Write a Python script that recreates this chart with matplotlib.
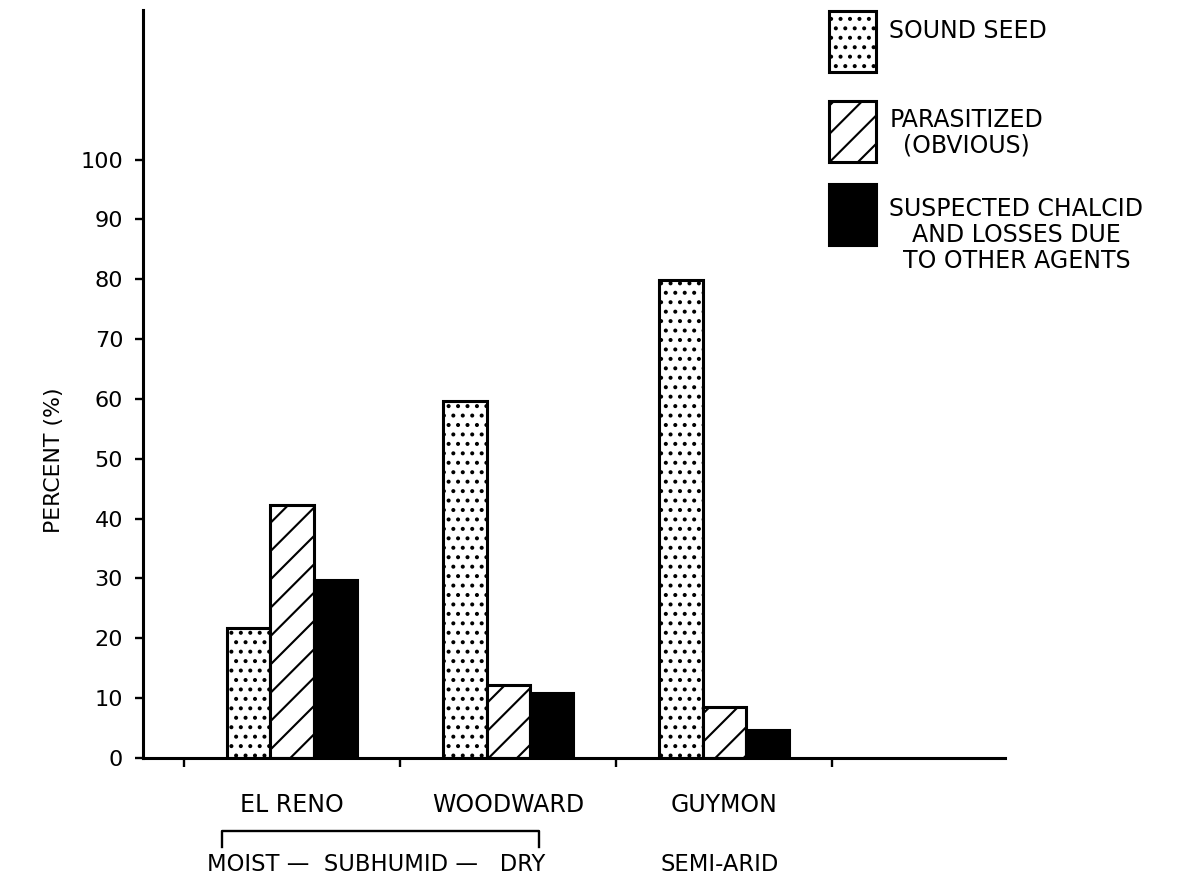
import matplotlib.pyplot as plt
from matplotlib.patches import Rectangle
from matplotlib.lines import Line2D
import numpy as np

plt.rcParams['hatch.linewidth'] = 0.9

sites = ['EL RENO', 'WOODWARD', 'GUYMON']
sound_seed = [21.7, 59.7, 79.8]
parasitized = [42.2, 12.2, 8.5]
chalcid = [29.8, 10.8, 4.7]
yticks = [0, 10, 20, 30, 40, 50, 60, 70, 80, 90, 100]
legend_labels = ['SOUND SEED', 'PARASITIZED\n(OBVIOUS)',
                 'SUSPECTED CHALCID\nAND LOSSES DUE\nTO OTHER AGENTS']

dpi = 170
fig = plt.figure(figsize=(1181 / dpi, 879 / dpi), dpi=dpi)
ax = fig.add_axes([143 / 1181, 121 / 879, 862 / 1181, 748 / 879])

x = np.arange(len(sites))
w = 0.2
lw = 1.3
fs = 10
b1 = ax.bar(x - w, sound_seed, w, facecolor='white', edgecolor='black', hatch='...', linewidth=lw)
b2 = ax.bar(x, parasitized, w, facecolor='white', edgecolor='black', hatch='//', linewidth=lw)
b3 = ax.bar(x + w, chalcid, w, facecolor='black', edgecolor='black', linewidth=lw)

ax.set_xlim(-0.69, 3.3)
ax.set_ylim(0, 125)

for s in ['top', 'right']:
    ax.spines[s].set_visible(False)
ax.spines['left'].set_linewidth(lw)
ax.spines['bottom'].set_linewidth(lw)

ax.set_yticks(yticks)
ax.set_yticklabels([str(v) for v in yticks])
ax.tick_params(axis='y', direction='out', length=3.4, width=1.0, labelsize=9.5, pad=5)

# category names at centres, tick marks at category boundaries
ax.set_xticks(x)
ax.set_xticklabels(sites)
ax.tick_params(axis='x', which='major', length=0, labelsize=fs, pad=15)
ax.set_xticks([-0.5, 0.5, 1.5, 2.5], minor=True)
ax.tick_params(axis='x', which='minor', direction='out', length=3.6, width=1.0)

ax.set_ylabel('PERCENT (%)', fontsize=9.3)
ax.yaxis.set_label_coords(-0.092, 0.398)

# bracket under El Reno - Woodward
trans = ax.get_xaxis_transform()
bx0, bx1 = -0.325, 1.145
ax.add_line(Line2D([bx0, bx0, bx1, bx1], [-0.119, -0.097, -0.097, -0.119],
                   transform=trans, color='black', linewidth=1.0, clip_on=False))
ax.text(0.39, -0.142, 'MOIST —  SUBHUMID —   DRY', transform=trans, ha='center', va='center',
        fontsize=9.6)
ax.text(1.98, -0.142, 'SEMI-ARID', transform=trans, ha='center', va='center', fontsize=9.6)

# legend
handles = [dict(facecolor='white', hatch='...'), dict(facecolor='white', hatch='//'),
           dict(facecolor='black', hatch=None)]
box_y = [0.917, 0.797, 0.686]
text_y = [0.972, 0.836, 0.699]
for h, by, ty, lab in zip(handles, box_y, text_y, legend_labels):
    r = Rectangle((0.796, by), 0.054, 0.081, transform=ax.transAxes, edgecolor='black',
                  linewidth=lw, clip_on=False, **h)
    ax.add_patch(r)
    ax.text(0.866, ty, lab, transform=ax.transAxes, ha='left', va='center',
            multialignment='center', fontsize=fs, linespacing=1.1)

fig.savefig('out.png', dpi=dpi)
